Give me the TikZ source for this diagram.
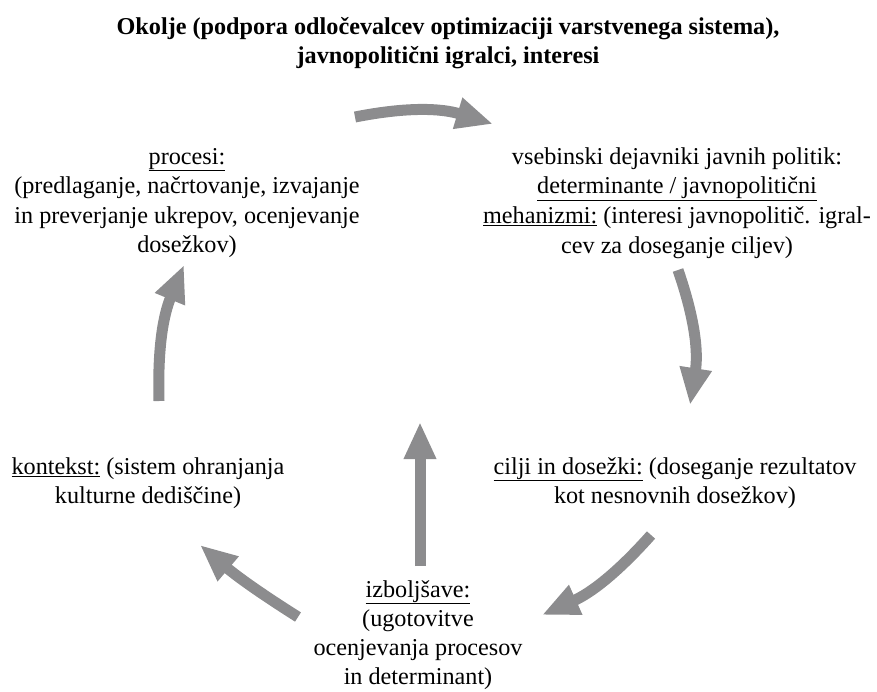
\documentclass[tikz,border=0pt]{standalone}
\usepackage{fontspec}
\setmainfont{Liberation Serif}
\usetikzlibrary{arrows.meta}
\definecolor{arrowgray}{HTML}{8C8C8E}
\tikzset{
  body/.style={align=center, inner sep=0pt, font=\fontsize{24.2}{29.6}\selectfont},
  heading/.style={align=center, inner sep=0pt, font=\bfseries\fontsize{24.2}{29}\selectfont},
  cyclearrow/.style={draw=arrowgray, line width=11pt,
    -{Triangle[length=37pt,width=30pt,fill=arrowgray]}},
}
\begin{document}
\begin{tikzpicture}[x=1pt,y=-1pt]
  \useasboundingbox (0,0) rectangle (877,691);

  % title
  \node[heading] (title) at (448,43)
    {Okolje (podpora odločevalcev optimizaciji varstvenega sistema),\\
     javnopolitični igralci, interesi};

  % the five stages of the cycle
  \node[body] (procesi) at (187,203)
    {\underline{procesi:}\\
     (predlaganje, načrtovanje, izvajanje\\
     in preverjanje ukrepov, ocenjevanje\\
     dosežkov)};
  \node[body] (vsebina) at (677,203)
    {vsebinski dejavniki javnih politik:\\
     \underline{determinante / javnopolitični}\\
     \underline{mehanizmi:} (interesi javnopolitič. igral-\\
     cev za doseganje ciljev)};
  \node[body] (kontekst) at (148,483)
    {\underline{kontekst:} (sistem ohranjanja\\
     kulturne dediščine)};
  \node[body] (cilji) at (675,483)
    {\underline{cilji in dosežki:} (doseganje rezultatov\\
     kot nesnovnih dosežkov)};
  \node[body, font=\fontsize{24.2}{29.2}\selectfont] (izboljsave) at (418,635)
    {\underline{izboljšave:}\\
     (ugotovitve\\
     ocenjevanja procesov\\
     in determinant)};

  % arrow end points
  \coordinate (a1s) at (355,117);  \coordinate (a1e) at (493,124);
  \coordinate (a2s) at (678,270);  \coordinate (a2e) at (690,405);
  \coordinate (a3s) at (651,535);  \coordinate (a3e) at (542,615);
  \coordinate (a4s) at (420,566);  \coordinate (a4e) at (420,422);
  \coordinate (a5s) at (298,617);  \coordinate (a5e) at (200,545);
  \coordinate (a6s) at (159,401);  \coordinate (a6e) at (184,265);

  % cycle arrows
  \draw[cyclearrow] (a1s) to[bend left=14] (a1e);
  \draw[cyclearrow] (a2s) to[bend left=14] (a2e);
  \draw[cyclearrow] (a3s) to[bend left=12] (a3e);
  \draw[cyclearrow] (a4s) -- (a4e);
  \draw[cyclearrow] (a5s) to[bend left=4] (a5e);
  \draw[cyclearrow] (a6s) to[bend left=12] (a6e);
\end{tikzpicture}
\end{document}
